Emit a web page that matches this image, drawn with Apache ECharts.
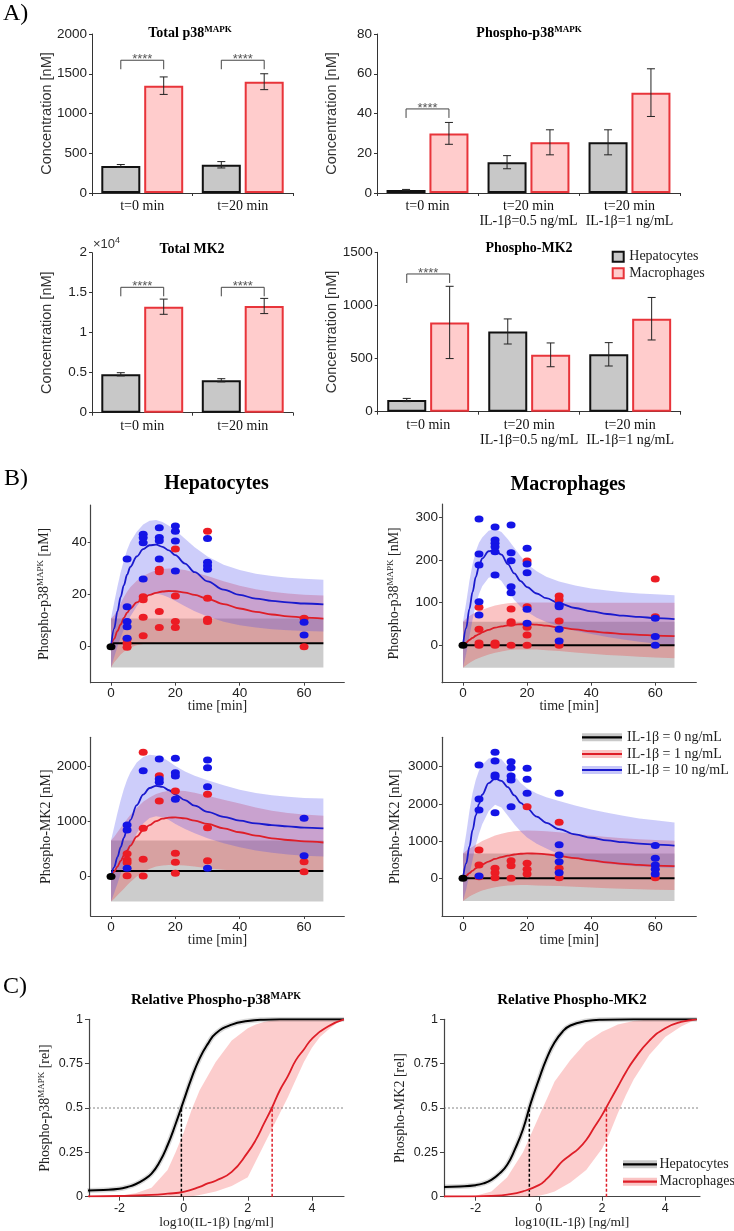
<!DOCTYPE html>
<html><head><meta charset="utf-8">
<script src="https://cdn.jsdelivr.net/npm/echarts@6/dist/echarts.min.js"></script>
<style>html,body{margin:0;padding:0;background:#fff}#c{width:734px;height:1231px}</style>
</head><body><div id="c"></div>
<script>
// ================= DATA =================
// ---- Panel A (bar charts) ----
const catsA1 = ['t=0 min', 't=20 min'];
const catsA2 = ['t=0 min', 't=20 min\nIL-1β=0.5 ng/mL', 't=20 min\nIL-1β=1 ng/mL'];
const totP38Hep = [340, 355], totP38HepErr = [18, 40];
const totP38Mac = [1350, 1400], totP38MacErr = [110, 100];
const phP38Hep = [1.5, 15.5, 25.5], phP38HepErr = [0.3, 3.3, 6.3];
const phP38Mac = [30, 25.5, 50.5], phP38MacErr = [5.5, 6.3, 12];
const totMK2Hep = [4800, 4050], totMK2HepErr = [200, 200];
const totMK2Mac = [13250, 13340], totMK2MacErr = [950, 950];
const phMK2Hep = [110, 755, 540], phMK2HepErr = [15, 118, 110];
const phMK2Mac = [840, 535, 875], phMK2MacErr = [340, 112, 200];
const sigA1 = [0, 1], sigLevelA1 = 1670;
const sigA2 = [0], sigLevelA2 = 42.3;
const sigA3 = [0, 1], sigLevelA3 = 15675;
const sigA4 = [0], sigLevelA4 = 1296;

// ---- Panel B (time courses) ----
const timeTicks = [0, 20, 40, 60];
const tFit = [0, 1, 2, 3, 4, 5, 6, 8, 10, 12, 14, 16, 18, 20, 23, 26, 30, 35, 40, 45, 50, 55, 60, 66];
const tFlat = [0, 66];
const origin = [[0, 0]];
// Hepatocytes p38
const hepP38Blue   = [0, 7, 13.5, 19, 23.5, 27.5, 30.5, 34.5, 37.3, 38.8, 39, 38.2, 36.8, 35, 31.8, 28.5, 25, 21.8, 19.8, 18.4, 17.5, 16.9, 16.5, 16.2];
const hepP38Red    = [0, 3, 6, 8.5, 11, 13, 14.6, 16.9, 18.6, 19.8, 20.6, 21.1, 21.3, 21.2, 20.7, 19.8, 18.3, 16.3, 14.6, 13.3, 12.3, 11.6, 11.1, 10.7];
const hepP38BlueHi = [10.8, 17, 23, 28.5, 33, 37, 40, 44, 46.7, 48.2, 48.5, 47.7, 46.3, 44.5, 41.3, 38, 34.5, 31.3, 29.3, 27.9, 27, 26.4, 26, 25.6];
const hepP38BlueLo = [-8, -4, 0, 3.5, 6.5, 9, 11.5, 15.5, 18.5, 20, 20.3, 19.8, 18.8, 17.5, 15.5, 13.5, 11.5, 9.5, 8.2, 7.3, 6.7, 6.3, 6, 5.8];
const hepP38RedHi  = [10.8, 12, 14, 16.5, 19, 21, 22.7, 25.2, 27, 28.3, 29.2, 29.7, 29.9, 29.8, 29.3, 28.4, 27, 25, 23.3, 22, 21, 20.3, 19.9, 19.6];
const hepP38RedLo  = [-8, -6, -4.5, -3, -2, -1, -0.3, 0.5, 1, 1.3, 1.5, 1.5, 1.5, 1.5, 1.5, 1.5, 1.5, 1.5, 1.5, 1.5, 1.5, 1.5, 1.5, 1.5];
const hepP38Gray = [-8, 10.8], hepP38Black = 1.3;
const hepP38BlueDots = [[5,33.5],[5,15.3],[5,9.6],[5,7.6],[5,3.2],[10,43],[10,41.7],[10,39.8],[10,25.9],[15,45.5],[15,41.8],[15,40.5],[15,33.5],[20,46.2],[20,44.2],[20,40.4],[20,28.9],[30,41.4],[30,32.3],[30,31],[30,29.6],[60,9.3],[60,4.5]];
const hepP38RedDots = [[5,2.8],[5,1.3],[5,-0.2],[10,19.1],[10,17.9],[10,11.2],[10,4.2],[15,29.6],[15,28.7],[15,13.4],[15,7.3],[20,37.4],[20,19.4],[20,9.6],[20,7.3],[30,44.2],[30,18.5],[30,10.5],[30,9.6],[60,10.9],[60,0]];
// Macrophages p38
const macP38Blue   = [0, 40, 85, 125, 160, 185, 203, 220, 223, 212, 190, 168, 150, 136, 121, 110, 98, 87, 79, 73, 69, 66, 63.5, 61];
const macP38Red    = [0, 6, 12, 17, 22, 26, 30, 36, 41, 44, 46.5, 48, 49, 49, 48, 45.5, 41.5, 37, 32.5, 29, 26, 24, 22.5, 21];
const macP38BlueHi = [55, 100, 150, 190, 220, 240, 252, 268, 272, 265, 248, 228, 208, 190, 173, 160, 149, 140, 133, 128, 124, 121, 119, 117];
const macP38BlueLo = [-53, -20, 20, 60, 95, 120, 138, 158, 162, 150, 128, 106, 90, 78, 64, 54, 44, 34, 26, 19, 13, 8, 4, 0];
const macP38RedHi  = [55, 62, 68, 73, 77, 80, 83, 88, 93, 96, 98, 99.5, 100, 100, 100, 100, 100, 100, 99.5, 99.5, 99.5, 99.5, 99.5, 99.5];
const macP38RedLo  = [-53, -47, -42, -37, -33, -30, -27, -22, -18, -15, -12, -10.5, -10, -10, -10.5, -12, -14, -17, -20, -23, -25, -27, -29, -31];
const macP38Gray = [-53, 55], macP38Black = 0;
const macP38BlueDots = [[5,295.5],[5,213.6],[5,187.8],[5,101.9],[5,70.7],[10,276.8],[10,246.4],[10,238.6],[10,230.7],[10,219],[10,164.4],[15,281.5],[15,216.6],[15,197.9],[15,137],[15,123],[20,227],[20,190],[20,169.8],[20,84.1],[20,51.3],[30,94.1],[30,90.2],[30,37.2],[30,9.8],[60,63],[60,20],[60,0]];
const macP38RedDots = [[5,88.8],[5,37.2],[5,5],[5,0],[10,5],[10,2],[10,0],[15,84.8],[15,55],[15,51.3],[15,0],[20,197],[20,90.2],[20,41.9],[20,24],[20,0],[30,115.2],[30,105.9],[30,56.7],[30,0],[60,155],[60,66.7]];
// Hepatocytes MK2
const hepMK2Blue   = [0, 170, 350, 530, 700, 870, 1020, 1290, 1480, 1600, 1640, 1620, 1560, 1480, 1380, 1280, 1170, 1080, 1010, 960, 930, 905, 885, 870];
const hepMK2Red    = [0, 90, 180, 280, 380, 470, 560, 720, 840, 930, 1000, 1045, 1065, 1068, 1050, 1010, 950, 870, 800, 740, 690, 660, 635, 615];
const hepMK2BlueHi = [650, 900, 1150, 1380, 1580, 1750, 1880, 2060, 2160, 2200, 2190, 2150, 2080, 2000, 1900, 1820, 1740, 1650, 1570, 1510, 1470, 1440, 1420, 1410];
const hepMK2BlueLo = [-450, -300, -130, 50, 220, 380, 530, 780, 960, 1060, 1090, 1070, 1020, 950, 860, 780, 690, 600, 530, 470, 430, 400, 375, 360];
const hepMK2RedHi  = [650, 720, 800, 880, 960, 1040, 1110, 1240, 1350, 1430, 1490, 1530, 1550, 1555, 1545, 1515, 1460, 1390, 1320, 1250, 1190, 1150, 1120, 1100];
const hepMK2RedLo  = [-450, -400, -340, -280, -220, -160, -100, 0, 80, 140, 180, 200, 210, 210, 200, 180, 150, 120, 100, 90, 90, 90, 95, 100];
const hepMK2Gray = [-450, 650], hepMK2Black = 100;
const hepMK2BlueDots = [[5,930],[5,840],[5,150],[10,1913],[15,2125],[15,1763],[15,1703],[20,2137],[20,1877],[20,1817],[20,1396],[30,2107],[30,1967],[30,1624],[30,148],[60,1052],[60,376]];
const hepMK2RedDots = [[5,410],[5,300],[5,250],[5,15],[10,2246],[10,871],[10,311],[10,9],[15,1823],[15,1365],[20,1546],[20,420],[20,257],[20,58],[30,1486],[30,882],[30,286],[60,268],[60,87]];
// Macrophages MK2
const macMK2Blue   = [0, 400, 850, 1300, 1700, 2000, 2250, 2560, 2680, 2620, 2450, 2230, 2030, 1880, 1660, 1490, 1320, 1180, 1090, 1020, 970, 930, 905, 880];
const macMK2Red    = [0, 70, 140, 205, 270, 320, 370, 450, 520, 570, 610, 640, 660, 670, 665, 645, 600, 540, 480, 430, 390, 360, 340, 325];
const macMK2BlueHi = [670, 1200, 1800, 2300, 2650, 2900, 3050, 3220, 3260, 3200, 3000, 2760, 2560, 2420, 2280, 2180, 2080, 1960, 1850, 1760, 1680, 1610, 1560, 1500];
const macMK2BlueLo = [-610, -300, 100, 500, 900, 1200, 1450, 1800, 1980, 1900, 1680, 1450, 1260, 1100, 930, 800, 650, 540, 450, 390, 350, 320, 300, 280];
const macMK2RedHi  = [670, 740, 800, 850, 900, 950, 1000, 1080, 1150, 1200, 1240, 1265, 1280, 1285, 1280, 1265, 1240, 1200, 1150, 1110, 1080, 1050, 1030, 1010];
const macMK2RedLo  = [-610, -550, -490, -440, -400, -360, -330, -280, -240, -215, -195, -185, -180, -180, -190, -200, -210, -230, -250, -265, -280, -295, -305, -315];
const macMK2Gray = [-610, 670], macMK2Black = 0;
const macMK2BlueDots = [[5,3046],[5,2132],[5,1836],[5,62],[10,3387],[10,3153],[10,2777],[10,2731],[10,1763],[15,3135],[15,2973],[15,2750],[15,2642],[15,1925],[20,2957],[20,2661],[20,2285],[30,2285],[30,900],[30,626],[30,446],[30,151],[60,880],[60,538],[60,357],[60,242],[60,116]];
const macMK2RedDots = [[5,760],[5,357],[5,43],[10,269],[10,151],[10,16],[15,473],[15,339],[15,0],[20,1925],[20,403],[20,242],[20,116],[30,1505],[30,269],[30,16],[60,16]];

// ---- Panel C (dose responses) ----
const doseTicks = [-2, 0, 2, 4];
const halfLevel = 0.5;
const hepP38DoseX = [-3, -2.5, -2, -1.75, -1.5, -1.25, -1, -0.75, -0.5, -0.25, 0, 0.25, 0.5, 0.75, 1, 1.5, 2, 2.5, 3, 4, 5];
const hepP38DoseY = [0.035, 0.038, 0.045, 0.055, 0.07, 0.095, 0.13, 0.195, 0.29, 0.41, 0.54, 0.67, 0.78, 0.86, 0.92, 0.97, 0.99, 0.998, 1, 1, 1];
const macP38DoseX = [-3, -2, -1, -0.5, 0, 0.5, 0.75, 1, 1.5, 2, 2.25, 2.5, 2.75, 3, 3.25, 3.5, 3.75, 4, 4.5, 5];
const macP38DoseY = [0.002, 0.004, 0.01, 0.017, 0.027, 0.055, 0.075, 0.09, 0.14, 0.25, 0.32, 0.41, 0.5, 0.6, 0.68, 0.77, 0.83, 0.89, 0.96, 1];
const doseBandX = [-3, -2, -1.5, -1, -0.5, -0.25, 0, 0.25, 0.5, 1, 1.5, 2, 2.25, 2.5, 2.75, 3, 3.25, 3.5, 3.75, 4, 4.25, 4.5, 4.75, 5];
const macP38BandHi = [0, 0.005, 0.02, 0.05, 0.15, 0.25, 0.36, 0.49, 0.6, 0.76, 0.88, 0.95, 0.97, 0.985, 0.993, 0.998, 1, 1, 1, 1, 1, 1, 1, 1];
const macP38BandLo = [0, 0, 0, 0, 0, 0, 0, 0.003, 0.01, 0.03, 0.06, 0.11, 0.2, 0.29, 0.38, 0.47, 0.56, 0.66, 0.76, 0.84, 0.9, 0.94, 0.975, 1];
const ec50P38 = { hep: -0.07, mac: 2.76 };
const hepMK2DoseX = [-3, -2.5, -2, -1.75, -1.5, -1.25, -1, -0.75, -0.5, -0.25, 0, 0.25, 0.5, 0.75, 1, 1.5, 2, 3, 5];
const hepMK2DoseY = [0.055, 0.058, 0.065, 0.075, 0.095, 0.13, 0.18, 0.27, 0.38, 0.53, 0.66, 0.78, 0.87, 0.93, 0.965, 0.99, 0.998, 1, 1];
const macMK2DoseX = [-3, -2, -1.5, -1, -0.5, 0, 0.25, 0.5, 0.75, 1, 1.25, 1.5, 1.75, 2, 2.25, 2.5, 2.75, 3, 3.5, 4, 4.5, 5];
const macMK2DoseY = [0.001, 0.002, 0.005, 0.012, 0.03, 0.065, 0.1, 0.15, 0.2, 0.235, 0.27, 0.32, 0.39, 0.46, 0.54, 0.62, 0.7, 0.77, 0.88, 0.95, 0.985, 1];
const macMK2BandHi = [0, 0.005, 0.03, 0.11, 0.25, 0.35, 0.45, 0.55, 0.65, 0.77, 0.87, 0.93, 0.95, 0.97, 0.98, 0.99, 0.995, 1, 1, 1, 1, 1, 1, 1];
const macMK2BandLo = [0, 0, 0, 0, 0, 0, 0.005, 0.015, 0.03, 0.08, 0.15, 0.27, 0.36, 0.47, 0.57, 0.66, 0.73, 0.8, 0.85, 0.9, 0.93, 0.96, 0.98, 1];
const ec50MK2 = { hep: -0.3, mac: 2.14 };

// ================= STYLE / LAYOUT =================
const SERIF = "'Liberation Serif','Times New Roman',serif";
const SANS = "'Liberation Sans',Arial,sans-serif";
const AX = '#444';
const RED = '#de1e28', BLUE = '#1a1acd';
const RED_DOT = '#ec1c24', BLUE_DOT = '#1414e6';
const GRAY_BAND = 'rgba(120,120,120,0.38)';
const RED_BAND = 'rgba(240,60,60,0.3)';
const BLUE_BAND = 'rgba(70,70,235,0.27)';
const OFF = 21.45; // offset of bar centre from category centre (px)
const plain = v => String(v);

const gridsPx = [
  [92, 34, 201, 159], [377, 34, 303, 159], [92, 252.7, 201, 160], [377.7, 252.3, 303, 159.4],
  [90.7, 505, 253.6, 177.7], [442, 504, 254.3, 178.7], [90.7, 737.3, 253.6, 178.7], [442, 737.3, 254.3, 178.7],
  [89, 1019.3, 255, 177.4], [444, 1019.3, 256, 177.4]
];

const RICH_AX = {
  a: { fontFamily: SERIF, fontSize: 14, color: '#222', lineHeight: 16 },
  s: { fontFamily: SERIF, fontSize: 9, color: '#222', verticalAlign: 'top', lineHeight: 16 }
};

function aX(gi, cats) {
  return { type: 'category', gridIndex: gi, data: cats,
    axisLine: { show: true, lineStyle: { color: '#333', width: 1 } },
    axisTick: { show: true, length: 3, lineStyle: { color: '#333' } },
    axisLabel: { interval: 0, fontFamily: SERIF, fontSize: 14, lineHeight: 15, color: '#111', margin: 6 },
    splitLine: { show: false } };
}
function aY(gi, max, interval, fmt) {
  return { type: 'value', gridIndex: gi, min: 0, max, interval,
    name: 'Concentration [nM]', nameLocation: 'middle', nameGap: 38, nameRotate: 90, nameMoveOverlap: false,
    nameTextStyle: { fontFamily: SANS, fontSize: 14.5, color: '#333' },
    axisLine: { show: true, lineStyle: { color: '#333', width: 1 } },
    axisTick: { show: true, length: 3, lineStyle: { color: '#333' } },
    axisLabel: { fontSize: 13.5, color: '#222', margin: 5, formatter: fmt || plain },
    splitLine: { show: false } };
}
function bX(gi, min, max) {
  return { type: 'value', gridIndex: gi, min, max, name: 'time [min]', nameLocation: 'middle', nameGap: 17, nameMoveOverlap: false,
    nameTextStyle: { fontFamily: SERIF, fontSize: 14, color: '#222' },
    axisLine: { show: true, onZero: false, lineStyle: { color: AX, width: 1.2 } },
    axisTick: { show: true, length: 3, customValues: timeTicks, lineStyle: { color: AX } },
    axisLabel: { customValues: timeTicks, fontSize: 13.5, color: '#222', margin: 4, formatter: plain },
    splitLine: { show: false } };
}
function bY(gi, min, max, ticks, name, gap) {
  return { type: 'value', gridIndex: gi, min, max, name, nameLocation: 'middle', nameGap: gap, nameRotate: 90, nameMoveOverlap: false,
    nameTextStyle: { rich: RICH_AX },
    axisLine: { show: true, onZero: false, lineStyle: { color: AX, width: 1.2 } },
    axisTick: { show: true, length: 3, customValues: ticks, lineStyle: { color: AX } },
    axisLabel: { customValues: ticks, fontSize: 13.5, color: '#222', margin: 4, formatter: plain },
    splitLine: { show: false } };
}
function cX(gi, min, max) {
  return { type: 'value', gridIndex: gi, min, max, name: 'log10(IL-1β) [ng/ml]', nameLocation: 'middle', nameGap: 19, nameMoveOverlap: false,
    nameTextStyle: { fontFamily: SERIF, fontSize: 13.5, color: '#222' },
    axisLine: { show: true, onZero: false, lineStyle: { color: AX, width: 1.2 } },
    axisTick: { show: true, length: 4, customValues: doseTicks, lineStyle: { color: AX } },
    axisLabel: { customValues: doseTicks, fontSize: 12.5, color: '#222', margin: 5, formatter: plain },
    splitLine: { show: false } };
}
function cY(gi, name) {
  return { type: 'value', gridIndex: gi, min: 0, max: 1, interval: 0.25, name, nameLocation: 'middle', nameGap: 36, nameRotate: 90, nameMoveOverlap: false,
    nameTextStyle: { rich: RICH_AX },
    axisLine: { show: true, onZero: false, lineStyle: { color: AX, width: 1.2 } },
    axisTick: { show: true, length: 4, lineStyle: { color: AX } },
    axisLabel: { fontSize: 12.5, color: '#222', margin: 6, formatter: plain },
    splitLine: { show: false } };
}

function bars(gi, name, vals, fill, border) {
  return { type: 'bar', name, xAxisIndex: gi, yAxisIndex: gi, data: vals, barWidth: 39, barGap: '10%',
    itemStyle: { color: fill, borderColor: border, borderWidth: 2 }, z: 2, silent: true };
}
function errBars(gi, vals, errs, side) {
  return { type: 'custom', xAxisIndex: gi, yAxisIndex: gi, z: 5, silent: true,
    data: vals.map((v, i) => [i, v, errs[i]]), encode: { x: 0, y: 1 },
    renderItem: (p, api) => {
      const i = api.value(0), v = api.value(1), e = api.value(2);
      const t = api.coord([i, v + e]), b = api.coord([i, v - e]);
      const x = t[0] + side * OFF;
      const st = { stroke: '#222', lineWidth: 1 };
      return { type: 'group', children: [
        { type: 'line', shape: { x1: x, y1: t[1], x2: x, y2: b[1] }, style: st },
        { type: 'line', shape: { x1: x - 4, y1: t[1], x2: x + 4, y2: t[1] }, style: st },
        { type: 'line', shape: { x1: x - 4, y1: b[1], x2: x + 4, y2: b[1] }, style: st }
      ] };
    } };
}
function brackets(gi, cats, level) {
  return { type: 'custom', xAxisIndex: gi, yAxisIndex: gi, z: 5, silent: true,
    data: cats.map(c => [c, level]), encode: { x: 0, y: 1 },
    renderItem: (p, api) => {
      const pt = api.coord([api.value(0), api.value(1)]);
      const x1 = pt[0] - OFF, x2 = pt[0] + OFF, y = pt[1];
      return { type: 'group', children: [
        { type: 'polyline', shape: { points: [[x1, y + 9], [x1, y], [x2, y], [x2, y + 9]] }, style: { stroke: '#444', lineWidth: 1, fill: null } },
        { type: 'text', x: pt[0], y: y - 1, style: { text: '****', fontSize: 13, fontFamily: SANS, fill: '#555', align: 'center', verticalAlign: 'middle' } }
      ] };
    } };
}
function band(gi, xs, lo, hi, color, z) {
  return { type: 'custom', xAxisIndex: gi, yAxisIndex: gi, z: z || 1, silent: true,
    data: [[xs[0], lo[0]]], encode: { x: 0, y: 1 },
    renderItem: (p, api) => {
      const pts = [];
      for (let i = 0; i < xs.length; i++) pts.push(api.coord([xs[i], hi[i]]));
      for (let i = xs.length - 1; i >= 0; i--) pts.push(api.coord([xs[i], lo[i]]));
      return { type: 'polygon', shape: { points: pts }, style: { fill: color, stroke: null } };
    } };
}
function curve(gi, xs, ys, color, width, z, extra) {
  return Object.assign({ type: 'line', xAxisIndex: gi, yAxisIndex: gi, data: xs.map((x, i) => [x, ys[i]]),
    showSymbol: false, symbol: 'none', smooth: 0.35, smoothMonotone: 'x',
    lineStyle: { color, width }, z: z || 3, silent: true }, extra || {});
}
function dots(gi, pts, color) {
  return { type: 'scatter', xAxisIndex: gi, yAxisIndex: gi, data: pts, symbol: 'circle', symbolSize: [9, 7],
    itemStyle: { color, opacity: 1 }, z: 6, silent: true };
}
function bPanel(gi, gray, black, redLo, redHi, blueLo, blueHi, red, blue, redPts, bluePts) {
  return [
    band(gi, tFlat, [gray[0], gray[0]], [gray[1], gray[1]], GRAY_BAND, 1),
    band(gi, tFit, redLo, redHi, RED_BAND, 1),
    band(gi, tFit, blueLo, blueHi, BLUE_BAND, 1),
    curve(gi, tFlat, [black, black], '#000', 2),
    curve(gi, tFit, red, RED, 1.8),
    curve(gi, tFit, blue, BLUE, 1.8),
    dots(gi, redPts, RED_DOT),
    dots(gi, bluePts, BLUE_DOT),
    dots(gi, origin, '#000')
  ];
}
const SMOOTH_C = { smooth: 0.5, smoothMonotone: null };
function cPanel(gi, xmin, xmax, bandLo, bandHi, hx, hy, mx, my, ec) {
  return [
    band(gi, doseBandX, bandLo, bandHi, 'rgba(245,90,90,0.3)', 1),
    curve(gi, [xmin, xmax], [halfLevel, halfLevel], '#666', 0.8, 2, { smooth: false, lineStyle: { color: '#666', width: 0.8, type: [2, 2] } }),
    curve(gi, [ec.hep, ec.hep], [0, halfLevel], '#000', 1.5, 2, { smooth: false, lineStyle: { color: '#000', width: 1.5, type: [3, 2] } }),
    curve(gi, [ec.mac, ec.mac], [0, halfLevel], RED, 1.5, 2, { smooth: false, lineStyle: { color: RED, width: 1.5, type: [3, 2] } }),
    curve(gi, hx, hy, 'rgba(0,0,0,0.15)', 5, 3, SMOOTH_C),
    curve(gi, hx, hy, '#000', 2, 4, SMOOTH_C),
    curve(gi, mx, my, RED, 1.8, 4, SMOOTH_C)
  ];
}

// ---- graphics (titles, panel letters, legends) ----
function txt(x, y, text, size, opts) {
  return { type: 'text', x, y, z: 100, style: Object.assign({ text, fontFamily: SERIF, fontSize: size, fill: '#000', align: 'left', verticalAlign: 'middle' }, opts || {}) };
}
function title(x, y, main, sup, size, supSize) {
  const text = sup ? '{a|' + main + '}{s|' + sup + '}' : '{a|' + main + '}';
  return { type: 'text', x, y, z: 100, style: { text, align: 'center', verticalAlign: 'middle',
    rich: { a: { fontFamily: SERIF, fontWeight: 'bold', fontSize: size, fill: '#000', lineHeight: size + 2 },
            s: { fontFamily: SERIF, fontWeight: 'bold', fontSize: supSize || 9, fill: '#000', verticalAlign: 'top', lineHeight: size + 2 } } } };
}
function legLine(x1, x2, y, color, halo, label, tx, size) {
  return [
    { type: 'line', z: 100, shape: { x1, y1: y, x2, y2: y }, style: { stroke: halo, lineWidth: 8 } },
    { type: 'line', z: 101, shape: { x1, y1: y, x2, y2: y }, style: { stroke: color, lineWidth: 2.2 } },
    txt(tx, y, label, size, { fill: '#222' })
  ];
}
const graphics = [
  txt(3, 14, 'A)', 24), txt(4, 479, 'B)', 24), txt(3, 987, 'C)', 24),
  title(190, 33, 'Total p38', 'MAPK', 14, 9),
  title(529, 33, 'Phospho-p38', 'MAPK', 14, 9),
  title(192, 249.5, 'Total MK2', null, 14),
  title(529, 248, 'Phospho-MK2', null, 14),
  title(216.5, 483.5, 'Hepatocytes', null, 20),
  title(568, 485, 'Macrophages', null, 20),
  title(216, 1000, 'Relative Phospho-p38', 'MAPK', 15, 10),
  title(572, 1000, 'Relative Phospho-MK2', null, 15),
  { type: 'text', x: 93, y: 244, z: 100, style: { text: '{a|×10}{s|4}', align: 'left', verticalAlign: 'middle',
    rich: { a: { fontFamily: SANS, fontSize: 13, fill: '#333', lineHeight: 15 }, s: { fontFamily: SANS, fontSize: 9, fill: '#333', verticalAlign: 'top', lineHeight: 15 } } } },
  { type: 'rect', z: 100, shape: { x: 612.7, y: 251.7, width: 11, height: 10 }, style: { fill: '#c8c8c8', stroke: '#111', lineWidth: 2 } },
  { type: 'rect', z: 100, shape: { x: 612.7, y: 268.3, width: 11, height: 10 }, style: { fill: '#ffcccc', stroke: '#e8343a', lineWidth: 2 } },
  txt(629.3, 256.7, 'Hepatocytes', 14, { fill: '#222' }),
  txt(629.3, 273.3, 'Macrophages', 14, { fill: '#222' }),
  ...legLine(582, 622, 737.3, '#000', 'rgba(120,120,120,0.4)', 'IL-1β = 0 ng/mL', 627, 14),
  ...legLine(582, 622, 754, RED, 'rgba(240,60,60,0.3)', 'IL-1β = 1 ng/mL', 627, 14),
  ...legLine(582, 622, 770, BLUE, 'rgba(70,70,235,0.3)', 'IL-1β = 10 ng/mL', 627, 14),
  ...legLine(623, 657, 1164.3, '#000', 'rgba(120,120,120,0.4)', 'Hepatocytes', 659.5, 14),
  ...legLine(623, 657, 1181.7, RED, 'rgba(240,60,60,0.3)', 'Macrophages', 659.5, 14)
];

const option = {
  animation: false,
  textStyle: { fontFamily: SANS },
  grid: gridsPx.map(g => ({ left: g[0], top: g[1], width: g[2], height: g[3], containLabel: false, outerBoundsMode: 'none' })),
  xAxis: [
    aX(0, catsA1), aX(1, catsA2), aX(2, catsA1), aX(3, catsA2),
    bX(4, -6.31, 72.5), bX(5, -6.55, 72.8), bX(6, -6.31, 72.5), bX(7, -6.55, 72.8),
    cX(8, -2.95, 5), cX(9, -3, 5.1)
  ],
  yAxis: [
    aY(0, 2000, 500), aY(1, 80, 20), aY(2, 20000, 5000, v => String(v / 10000)), aY(3, 1500, 500),
    bY(4, -13.8, 54.2, [0, 20, 40], '{a|Phospho-p38}{s|MAPK}{a| [nM]}', 38.5),
    bY(5, -88, 330.7, [0, 100, 200, 300], '{a|Phospho-p38}{s|MAPK}{a| [nM]}', 40),
    bY(6, -714, 2517, [0, 1000, 2000], '{a|Phospho-MK2 [nM]}', 36),
    bY(7, -1013, 3790, [0, 1000, 2000, 3000], '{a|Phospho-MK2 [nM]}', 39),
    cY(8, '{a|Phospho-p38}{s|MAPK}{a| [rel]}'),
    cY(9, '{a|Phospho-MK2 [rel]}')
  ],
  series: [
    bars(0, 'Hepatocytes', totP38Hep, '#c8c8c8', '#111'), bars(0, 'Macrophages', totP38Mac, '#ffcccc', '#e8343a'),
    errBars(0, totP38Hep, totP38HepErr, -1), errBars(0, totP38Mac, totP38MacErr, 1), brackets(0, sigA1, sigLevelA1),
    bars(1, 'Hepatocytes', phP38Hep, '#c8c8c8', '#111'), bars(1, 'Macrophages', phP38Mac, '#ffcccc', '#e8343a'),
    errBars(1, phP38Hep, phP38HepErr, -1), errBars(1, phP38Mac, phP38MacErr, 1), brackets(1, sigA2, sigLevelA2),
    bars(2, 'Hepatocytes', totMK2Hep, '#c8c8c8', '#111'), bars(2, 'Macrophages', totMK2Mac, '#ffcccc', '#e8343a'),
    errBars(2, totMK2Hep, totMK2HepErr, -1), errBars(2, totMK2Mac, totMK2MacErr, 1), brackets(2, sigA3, sigLevelA3),
    bars(3, 'Hepatocytes', phMK2Hep, '#c8c8c8', '#111'), bars(3, 'Macrophages', phMK2Mac, '#ffcccc', '#e8343a'),
    errBars(3, phMK2Hep, phMK2HepErr, -1), errBars(3, phMK2Mac, phMK2MacErr, 1), brackets(3, sigA4, sigLevelA4),
    ...bPanel(4, hepP38Gray, hepP38Black, hepP38RedLo, hepP38RedHi, hepP38BlueLo, hepP38BlueHi, hepP38Red, hepP38Blue, hepP38RedDots, hepP38BlueDots),
    ...bPanel(5, macP38Gray, macP38Black, macP38RedLo, macP38RedHi, macP38BlueLo, macP38BlueHi, macP38Red, macP38Blue, macP38RedDots, macP38BlueDots),
    ...bPanel(6, hepMK2Gray, hepMK2Black, hepMK2RedLo, hepMK2RedHi, hepMK2BlueLo, hepMK2BlueHi, hepMK2Red, hepMK2Blue, hepMK2RedDots, hepMK2BlueDots),
    ...bPanel(7, macMK2Gray, macMK2Black, macMK2RedLo, macMK2RedHi, macMK2BlueLo, macMK2BlueHi, macMK2Red, macMK2Blue, macMK2RedDots, macMK2BlueDots),
    ...cPanel(8, -2.95, 5, macP38BandLo, macP38BandHi, hepP38DoseX, hepP38DoseY, macP38DoseX, macP38DoseY, ec50P38),
    ...cPanel(9, -3, 5.1, macMK2BandLo, macMK2BandHi, hepMK2DoseX, hepMK2DoseY, macMK2DoseX, macMK2DoseY, ec50MK2)
  ],
  graphic: { elements: graphics }
};
const chart = echarts.init(document.getElementById('c'), null, { renderer: 'canvas' });
chart.setOption(option);
</script>
</body></html>
